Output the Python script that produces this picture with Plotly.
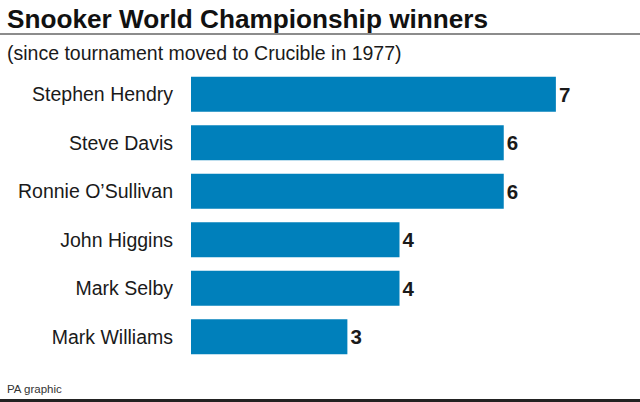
import plotly.graph_objects as go

players = ["Stephen Hendry", "Steve Davis", "Ronnie O\u2019Sullivan", "John Higgins", "Mark Selby", "Mark Williams"]
titles = [7, 6, 6, 4, 4, 3]

FONT = "Liberation Sans, Arial, sans-serif"
BAR = "#0080bb"
PH = 291  # plot height in px
PW = 417  # plot width in px

fig = go.Figure()
fig.add_trace(go.Bar(
    x=titles, y=players, orientation="h",
    marker=dict(color=BAR, line=dict(width=0)),
    width=0.72,
    text=[f"<b>{v}</b>" for v in titles],
    textposition="outside",
    textfont=dict(family=FONT, size=20.5, color="#1a1a1a"),
    cliponaxis=False,
    hoverinfo="skip",
))

fig.update_layout(
    width=640, height=402,
    margin=dict(l=191, r=32, t=70, b=41, autoexpand=False),
    paper_bgcolor="white", plot_bgcolor="white",
    showlegend=False,
    xaxis=dict(range=[0, 8], visible=False, fixedrange=True),
    yaxis=dict(
        categoryorder="array", categoryarray=players, autorange="reversed",
        showgrid=False, zeroline=False, showline=False, ticks="",
        ticklabelstandoff=17, automargin=False, fixedrange=True,
        tickfont=dict(family=FONT, size=19.5, color="#1a1a1a"),
    ),
    shapes=[
        dict(type="line", xref="paper", yref="paper", x0=-191/PW, x1=(640-191)/PW,
             y0=1 + 36/PH, y1=1 + 36/PH, line=dict(color="#666666", width=1.5)),
        dict(type="line", xref="paper", yref="paper", x0=-191/PW, x1=(640-191)/PW,
             y0=-39.5/PH, y1=-39.5/PH, line=dict(color="#222222", width=3)),
    ],
    annotations=[
        dict(text="<b>Snooker World Championship winners</b>", xref="paper", yref="paper",
             x=-186/PW, y=1 + 51/PH, xanchor="left", yanchor="middle", showarrow=False,
             font=dict(family=FONT, size=26.2, color="#111111")),
        dict(text="(since tournament moved to Crucible in 1977)", xref="paper", yref="paper",
             x=-186/PW, y=1 + 17/PH, xanchor="left", yanchor="middle", showarrow=False,
             font=dict(family=FONT, size=19.5, color="#1a1a1a")),
        dict(text="PA graphic", xref="paper", yref="paper",
             x=-186/PW, y=-28/PH, xanchor="left", yanchor="middle", showarrow=False,
             font=dict(family=FONT, size=11.5, color="#333333")),
    ],
)

fig.write_html("out.html", config={"displayModeBar": False},
               post_script="document.body.style.margin='0';document.body.style.overflow='hidden';")
